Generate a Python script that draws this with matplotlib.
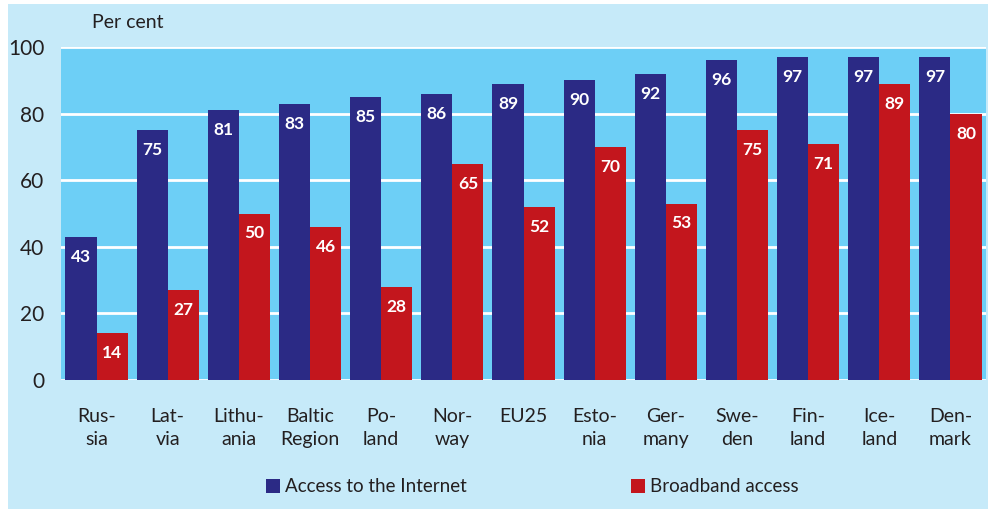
import numpy as np
import matplotlib
matplotlib.use("Agg")
import matplotlib.pyplot as plt
from matplotlib.patches import Rectangle, Patch

plt.rcParams['font.family'] = ['Lato', 'DejaVu Sans']

# Data.
countries = ["Rus-\nsia", "Lat-\nvia", "Lithu-\nania", "Baltic\nRegion", "Po-\nland",
             "Nor-\nway", "EU25\n", "Esto-\nnia", "Ger-\nmany", "Swe-\nden",
             "Fin-\nland", "Ice-\nland", "Den-\nmark"]
internet = [43, 75, 81, 83, 85, 86, 89, 90, 92, 96, 97, 97, 97]
broadband = [14, 27, 50, 46, 28, 65, 52, 70, 53, 75, 71, 89, 80]
series_labels = ["Access to the Internet", "Broadband access"]

NAVY = "#2b2a85"
RED = "#c3161d"
PANEL = "#c6eaf9"
PLOT_BG = "#6dcff6"
TEXT = "#231f20"

fig = plt.figure(figsize=(9.96, 5.09), dpi=100, facecolor="white")
# Light blue panel behind everything.
fig.patches.append(Rectangle((8 / 996, 0), (988 - 8) / 996, 1 - 4 / 509,
                             transform=fig.transFigure, facecolor=PANEL,
                             edgecolor="none", zorder=-10))

ax = fig.add_axes([61 / 996, 129 / 509, 925 / 996, 333 / 509])
ax.set_facecolor(PLOT_BG)

x = np.arange(len(countries))
w = 0.437
b1 = ax.bar(x - w / 2, internet, w, color=NAVY, zorder=3)
b2 = ax.bar(x + w / 2, broadband, w, color=RED, zorder=3)

for bars, vals in ((b1, internet), (b2, broadband)):
    for rect, v in zip(bars, vals):
        ax.text(rect.get_x() + rect.get_width() / 2, v - 6, str(v),
                ha="center", va="center", color="white", fontsize=12.5,
                fontweight="bold", zorder=4)

ax.set_xlim(-0.5, len(countries) - 0.5)
ax.set_ylim(0, 100)
ax.set_yticks(range(0, 101, 20))
ax.grid(axis="y", color="white", linewidth=2, zorder=1)
ax.set_axisbelow(True)
for s in ax.spines.values():
    s.set_visible(False)

ax.set_xticks(x)
ax.set_xticklabels(countries, fontsize=14, linespacing=1.45, color=TEXT)
ax.tick_params(axis="x", length=0, pad=20)
ax.tick_params(axis="y", length=0, pad=12, labelsize=15, labelcolor=TEXT)

fig.text(92 / 996, 1 - 22 / 509, "Per cent", fontsize=14, va="center",
         ha="left", color=TEXT)

# Two legend entries, placed separately like the original.
for color, label, xpos in ((NAVY, series_labels[0], 258), (RED, series_labels[1], 623)):
    fig.legend(handles=[Patch(facecolor=color, label=label)], loc="center left",
               bbox_to_anchor=(xpos / 996, 22 / 509), frameon=False,
               fontsize=13.5, handlelength=0.75, handleheight=0.75,
               handletextpad=0.3, borderaxespad=0, labelcolor=TEXT)

fig.savefig("out.png", dpi=100, facecolor=fig.get_facecolor())
